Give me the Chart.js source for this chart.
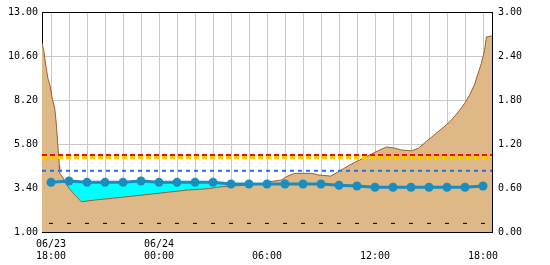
<!DOCTYPE html>
<html>
<head>
<meta charset="utf-8">
<script src="https://cdn.jsdelivr.net/npm/chart.js@4/dist/chart.umd.min.js"></script>
<style>
html, body { margin: 0; padding: 0; background: #fff; }
#wrap { width: 550px; height: 265px; }
</style>
</head>
<body>
<div id="wrap"><canvas id="levelChart" width="550" height="265"></canvas></div>
<script>
// x = hours since 06/23 18:00
const hourTicks = [0, 1, 2, 3, 4, 5, 6, 7, 8, 9, 10, 11, 12, 13, 14, 15, 16, 17, 18, 19, 20, 21, 22, 23, 24];
const tickHours = [0, 6, 12, 18, 24];
const tickDates = ['06/23', '06/24', '', '', ''];
const tickTimes = ['18:00', '00:00', '06:00', '12:00', '18:00'];

const leftTicks = [1.00, 3.40, 5.80, 8.20, 10.60, 13.00];
const rightTicks = [0.00, 0.60, 1.20, 1.80, 2.40, 3.00];

// hourly series (blue dots)
const dotLevels = [3.71, 3.78, 3.71, 3.71, 3.71, 3.78, 3.71, 3.71, 3.71, 3.71, 3.62, 3.62, 3.62,
    3.62, 3.62, 3.62, 3.55, 3.51, 3.44, 3.44, 3.44, 3.44, 3.44, 3.44, 3.51];
// short black marks near the bottom
const markLevels = [1.47, 1.47, 1.47, 1.47, 1.47, 1.47, 1.47, 1.47, 1.47, 1.47, 1.47, 1.47, 1.47,
    1.47, 1.47, 1.47, 1.47, 1.47, 1.47, 1.47, 1.47, 1.47, 1.47, 1.47, 1.47];

// brown area
const brownTimes = [-0.5, -0.39, -0.28, -0.17, -0.06, 0.08, 0.21, 0.30, 0.34, 0.40, 0.46, 0.48,
    0.67, 0.94, 1.32, 1.69, 2.48, 3.54, 4.54, 5.59, 6.59, 7.59, 8.82, 9.21, 10.04, 11.04, 11.71,
    12.15, 12.82, 13.08, 13.54, 14.48, 14.87, 15.54, 16.04, 16.59, 17.15, 17.71, 18.15, 18.63,
    19.09, 19.48, 20.04, 20.41, 20.85, 21.50, 21.97, 22.33, 22.71, 22.98, 23.26, 23.54, 23.73,
    23.91, 24.09, 24.19, 24.5];
const brownLevels = [11.33, 10.83, 10.02, 9.38, 9.02, 8.24, 7.75, 6.84, 6.29, 5.47, 4.65, 4.22,
    3.95, 3.47, 3.02, 2.65, 2.75, 2.85, 2.96, 3.07, 3.18, 3.29, 3.37, 3.44, 3.51, 3.56, 3.62,
    3.74, 3.84, 4.02, 4.20, 4.20, 4.11, 4.05, 4.33, 4.65, 4.93, 5.20, 5.42, 5.64,
    5.58, 5.47, 5.43, 5.57, 5.93, 6.47, 6.84, 7.20, 7.65, 8.02, 8.47, 9.07, 9.66,
    10.20, 10.93, 11.64, 11.69];

const redLevel = 5.20;
const yellowLevel = 5.06;
const blueLevel = 4.34;

const tickFont = { family: "'DejaVu Sans Mono', monospace", size: 10, lineHeight: 1.2 };

const hourly = (vals) => hourTicks.map((h, i) => ({ x: h, y: vals[i] }));
const flat = (v) => [{ x: -0.5, y: v }, { x: 24.5, y: v }];

new Chart(document.getElementById('levelChart').getContext('2d'), {
    type: 'line',
    data: {
        datasets: [{
            data: hourly(dotLevels),
            borderColor: '#1a8cbe',
            backgroundColor: '#1a8cbe',
            borderWidth: 3,
            pointRadius: 4.5,
            pointBorderWidth: 0,
            fill: false,
            order: 1,
        }, {
            data: flat(redLevel),
            borderColor: '#e81400',
            borderWidth: 2,
            borderDash: [5, 3],
            pointRadius: 0,
            fill: false,
            order: 2,
        }, {
            data: flat(yellowLevel),
            borderColor: '#ffcc00',
            borderWidth: 3,
            borderDash: [5, 3],
            pointRadius: 0,
            fill: false,
            order: 3,
        }, {
            data: flat(blueLevel),
            borderColor: '#1e6fe6',
            borderWidth: 2,
            borderDash: [4, 4],
            pointRadius: 0,
            fill: false,
            order: 2,
        }, {
            data: hourly(markLevels),
            showLine: false,
            pointStyle: 'line',
            pointRadius: 2,
            pointBorderWidth: 1,
            borderColor: '#000',
            order: 4,
        }, {
            data: brownTimes.map((t, i) => ({ x: t, y: brownLevels[i] })),
            borderColor: '#9c5f2a',
            backgroundColor: '#deb887',
            borderWidth: 1,
            pointRadius: 0,
            fill: 'start',
            order: 8,
        }, {
            data: hourly(dotLevels),
            borderColor: 'rgba(0,0,0,0)',
            backgroundColor: '#00ffff',
            borderWidth: 1,
            pointRadius: 0,
            fill: 'start',
            order: 9,
        }],
    },
    options: {
        responsive: false,
        animation: false,
        layout: {
            padding: { top: 12, left: 0, right: 0, bottom: 0 }
        },
        plugins: {
            legend: { display: false },
            tooltip: { enabled: false },
            filler: { drawTime: 'beforeDatasetDraw' },
        },
        scales: {
            x: {
                type: 'linear',
                min: -0.5,
                max: 24.5,
                z: 1,
                afterBuildTicks: (s) => { s.ticks = hourTicks.map(v => ({ value: v })); },
                afterFit: (s) => { s.height = 33; },
                ticks: {
                    autoSkip: false,
                    maxRotation: 0,
                    padding: 6,
                    color: '#000',
                    font: tickFont,
                    callback: (value) => {
                        const i = tickHours.indexOf(value);
                        return i < 0 ? '' : [tickDates[i], tickTimes[i]];
                    }
                },
                grid: { color: '#c8c8c8', drawTicks: false },
                border: { color: '#000', width: 1 },
            },
            y: {
                position: 'left',
                min: 1,
                max: 13,
                z: 1,
                afterBuildTicks: (s) => { s.ticks = leftTicks.map(v => ({ value: v })); },
                afterFit: (s) => { s.width = 42; },
                ticks: {
                    padding: 4,
                    color: '#000',
                    font: tickFont,
                    callback: (value) => value.toFixed(2)
                },
                grid: {
                    color: (c) => (c.tick && c.tick.value === 13 ? '#000' : '#c8c8c8'),
                    drawTicks: false
                },
                border: { color: '#000', width: 1 },
            },
            y1: {
                position: 'right',
                min: 0,
                max: 3,
                z: 1,
                afterBuildTicks: (s) => { s.ticks = rightTicks.map(v => ({ value: v })); },
                afterFit: (s) => { s.width = 58; },
                ticks: {
                    padding: 6,
                    color: '#000',
                    font: tickFont,
                    callback: (value) => value.toFixed(2)
                },
                grid: { drawOnChartArea: false, drawTicks: false },
                border: { color: '#000', width: 1 },
            }
        }
    }
});
</script>
</body>
</html>
